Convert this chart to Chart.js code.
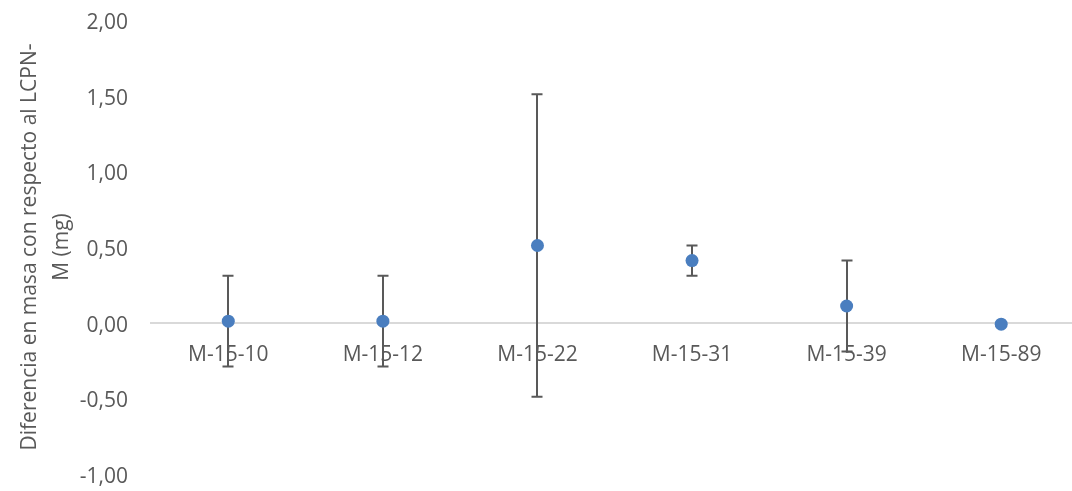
<!DOCTYPE html>
<html lang="es">
<head>
<meta charset="utf-8">
<title>Diferencia en masa con respecto al LCPN-M</title>
<script src="https://cdn.jsdelivr.net/npm/chart.js@4.4.1/dist/chart.umd.min.js"></script>
<style>
  html, body { margin: 0; padding: 0; background: #ffffff; overflow: hidden; }
  #wrap { width: 1085px; height: 491px; }
</style>
</head>
<body>
<div id="wrap"><canvas id="chart" width="1085" height="491"></canvas></div>
<script>
// Muestras medidas
const categories = ['M-15-10', 'M-15-12', 'M-15-22', 'M-15-31', 'M-15-39', 'M-15-89'];
// Diferencia en masa (mg)
const diferencia = [0.01, 0.01, 0.51, 0.41, 0.11, -0.01];
// Incertidumbre (mg), barra simétrica
const incertidumbre = [0.30, 0.30, 1.00, 0.10, 0.30, 0.01];
// Marcas del eje vertical
const yTicks = [-1.0, -0.5, 0.0, 0.5, 1.0, 1.5, 2.0];

const textColor = '#595959';
const fontFamily = '"Open Sans", "Liberation Sans", sans-serif';

// Barras de error dibujadas con las escalas del gráfico, debajo de los marcadores
const errorBars = {
  id: 'errorBars',
  beforeDatasetsDraw(chart) {
    const { ctx, scales } = chart;
    const xs = scales.x, ys = scales.y;
    const cap = 5.5;
    ctx.save();
    ctx.strokeStyle = '#595959';
    ctx.lineWidth = 2;
    diferencia.forEach((v, i) => {
      const px = Math.round(xs.getPixelForValue(i));
      const top = ys.getPixelForValue(v + incertidumbre[i]);
      const bot = ys.getPixelForValue(v - incertidumbre[i]);
      ctx.beginPath();
      ctx.moveTo(px, top); ctx.lineTo(px, bot);
      ctx.moveTo(px - cap, top); ctx.lineTo(px + cap, top);
      ctx.moveTo(px - cap, bot); ctx.lineTo(px + cap, bot);
      ctx.stroke();
    });
    ctx.restore();
  }
};

new Chart(document.getElementById('chart'), {
  type: 'line',
  data: {
    labels: categories,
    datasets: [{
      data: diferencia,
      showLine: false,
      pointRadius: 6.5,
      pointHoverRadius: 6.5,
      pointBackgroundColor: '#4a7ebf',
      pointBorderColor: '#4a7ebf',
      pointBorderWidth: 0
    }]
  },
  options: {
    responsive: false,
    devicePixelRatio: 1,
    animation: false,
    layout: { padding: { top: 20, bottom: 17, left: 0, right: 2 } },
    plugins: {
      legend: { display: false },
      tooltip: { enabled: false }
    },
    scales: {
      x: {
        type: 'category',
        position: { y: 0 },
        offset: true,
        grid: { display: false, drawTicks: false, tickLength: 0 },
        border: { display: true, color: '#d9d9d9', width: 2 },
        ticks: {
          color: textColor,
          padding: 20,
          maxRotation: 0,
          autoSkip: false,
          font: { family: fontFamily, size: 21 }
        },
        afterFit(scale) {
          scale.height = 0;
          scale.paddingLeft = 0; scale.paddingRight = 0;
          scale.paddingTop = 0; scale.paddingBottom = 0;
        }
      },
      y: {
        type: 'linear',
        position: 'left',
        min: -1,
        max: 2,
        grid: { display: false, drawTicks: false, tickLength: 0 },
        border: { display: false },
        afterBuildTicks(scale) { scale.ticks = yTicks.map(v => ({ value: v })); },
        ticks: {
          color: textColor,
          padding: 23,
          labelOffset: 3,
          font: { family: fontFamily, size: 21 },
          callback: (v) => Number(v).toFixed(2).replace('.', ',')
        },
        title: {
          display: true,
          text: ['Diferencia en masa con respecto al LCPN-', 'M (mg)'],
          color: textColor,
          padding: { top: 14, bottom: 0 },
          font: { family: fontFamily, size: 21, lineHeight: 1.52 }
        },
        afterFit(scale) {
          scale.width = 151;
          scale.paddingTop = 0; scale.paddingBottom = 0;
          scale.paddingLeft = 0; scale.paddingRight = 0;
        }
      }
    }
  },
  plugins: [errorBars]
});
</script>
</body>
</html>
